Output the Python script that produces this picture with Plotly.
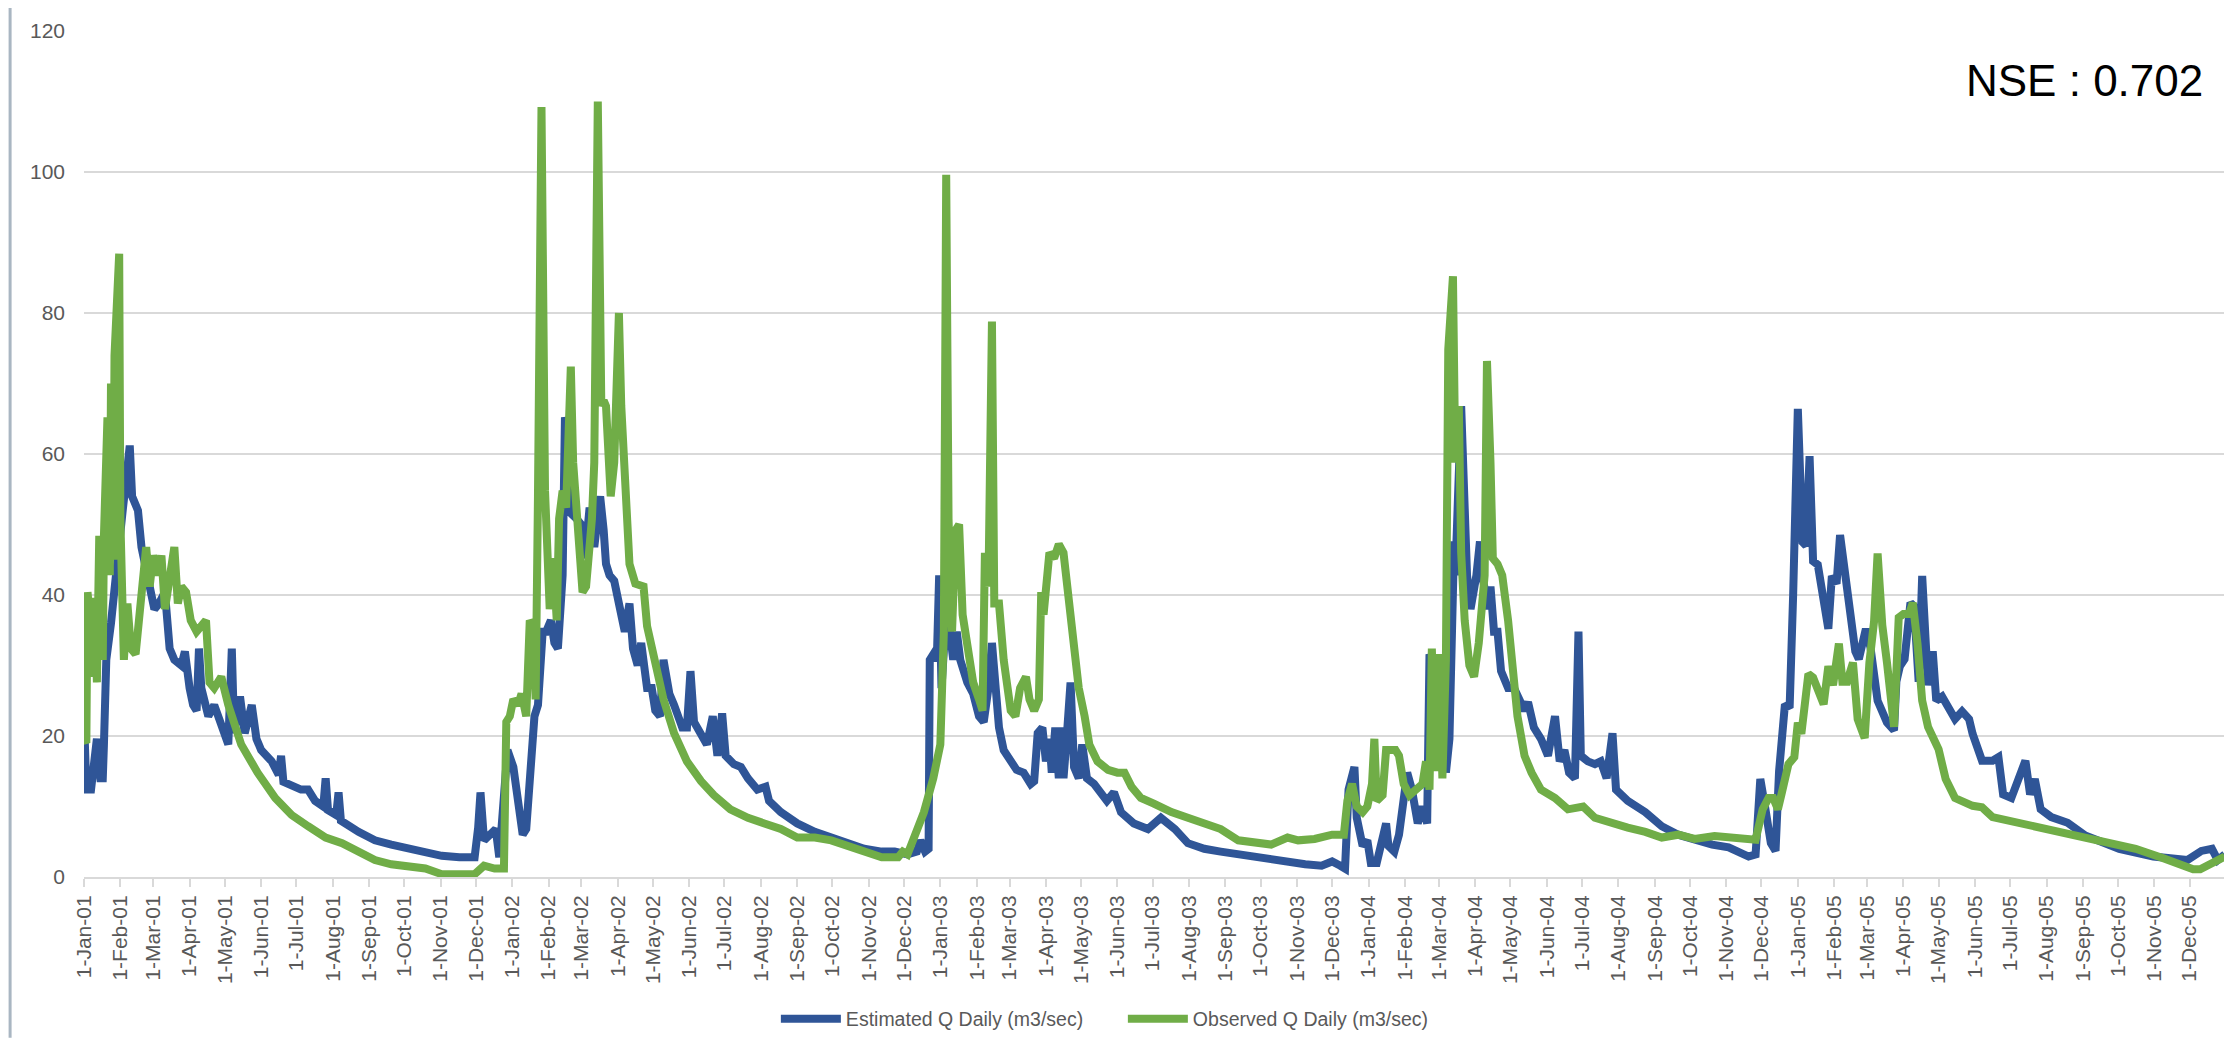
import pandas as pd
import plotly.graph_objects as go

START = pd.Timestamp("2001-01-01")  # day offsets below count from this date

# Estimated Q Daily (m3/sec): (day offset, value)
est_2001 = [(0, 22.8), (2, 12.4), (6, 12.4), (9, 16), (11, 19.6), (14, 14), (16, 14), (17, 18.8), (19, 30.8),
            (23, 36), (25, 38.8), (26, 40), (28, 45), (33, 52), (37, 58), (39, 61.2), (41, 54), (46, 52),
            (49, 46.8), (54, 42.8), (60, 38), (64, 38.8), (69, 40.4), (73, 32.4), (77, 30.8), (83, 30),
            (86, 32), (90, 26.8), (93, 24.4), (96, 23.6), (98, 32.4), (100, 26.8), (106, 22.8), (111, 24.4),
            (117, 21.2), (123, 18.8), (126, 32.4), (128, 20.4), (133, 25.6), (137, 20.4), (143, 24.4),
            (147, 19.6), (151, 18), (160, 16.4), (166, 14.5), (168, 17.2), (170, 13.5), (174, 13.2),
            (185, 12.4), (191, 12.4), (197, 10.8), (204, 10), (206, 14), (208, 9.5), (215, 8.8), (217, 12),
            (219, 8), (234, 6.4), (248, 5.2), (262, 4.6), (277, 4), (291, 3.4), (305, 3), (320, 2.8),
            (333, 2.8), (336, 7), (338, 12), (341, 5.2), (347, 6), (351, 6.8), (354, 2.8), (357, 9.2),
            (361, 18)]
est_2002 = [(366, 15.6), (370, 10.8), (374, 6), (377, 6.8), (380, 15.6), (384, 22.8), (387, 24.4),
            (391, 34.8), (394, 34.8), (398, 36.4), (401, 33.2), (404, 32.4), (408, 42.8), (410, 65.2),
            (413, 62.8), (415, 51.6), (420, 50.8), (424, 50), (427, 45.2), (431, 52.4), (435, 46.8),
            (440, 54), (443, 49.2), (445, 44.4), (448, 42.8), (452, 42), (457, 38), (461, 34.8),
            (465, 38.8), (468, 32.4), (472, 30), (475, 33.2), (480, 26.8), (484, 26.8), (487, 23.6),
            (491, 22.8), (494, 30.8), (499, 26), (503, 24.4), (507, 22), (510, 21.2), (514, 21.2),
            (517, 29.2), (520, 22), (526, 20.4), (531, 18.8), (536, 22.8), (540, 17.2), (544, 23.2),
            (547, 17.2), (554, 16), (560, 15.6), (566, 14), (574, 12.4), (581, 12.8), (584, 10.8),
            (594, 9.2), (608, 7.6), (623, 6.4), (637, 5.6), (651, 4.8), (665, 4), (680, 3.6), (691, 3.6),
            (702, 3.2), (710, 3.6), (713, 5.2), (717, 3.6), (720, 4), (721, 30.8), (724, 31.6),
            (727, 30.8), (729, 42.8)]
est_2003 = [(731, 26.8), (734, 34.8), (737, 36.4), (741, 30.8), (744, 34.8), (747, 30.8), (753, 27.6),
            (758, 26), (763, 22.8), (767, 22), (771, 26.8), (774, 33.2), (777, 28.4), (780, 21.2),
            (784, 18), (790, 16.4), (795, 15.2), (801, 14.8), (807, 13.2), (810, 13.6), (813, 20.4),
            (817, 21.2), (820, 16.4), (823, 19.6), (825, 14.8), (828, 21.2), (831, 14), (833, 21.2),
            (835, 14), (838, 20.4), (841, 27.6), (844, 15.6), (848, 14), (851, 18.8), (855, 14),
            (861, 13.2), (867, 11.6), (872, 10.8), (878, 12), (884, 9.2), (895, 7.6), (907, 6.8),
            (918, 8.4), (930, 6.8), (941, 4.8), (955, 4), (969, 3.6), (984, 3.2), (998, 2.8), (1012, 2.4),
            (1026, 2), (1041, 1.8), (1055, 1.6), (1064, 2.2), (1071, 1.6), (1075, 1.2), (1078, 12.4),
            (1083, 15.6), (1085, 8.4), (1090, 4.4)]
est_2004 = [(1094, 5.2), (1097, 2), (1102, 2), (1107, 5.2), (1110, 7.6), (1112, 4.4), (1117, 3.6),
            (1121, 6), (1125, 10.8), (1128, 14.8), (1132, 12.4), (1137, 7.6), (1141, 10), (1145, 7.6),
            (1147, 31.6), (1151, 30), (1157, 27.6), (1161, 14.8), (1164, 19.6), (1168, 47.6), (1169, 42.8),
            (1174, 66.8), (1177, 49.2), (1179, 42.8), (1182, 38), (1187, 42.8), (1190, 47.6), (1192, 42.8),
            (1197, 38), (1199, 41.2), (1202, 34.8), (1205, 34.8), (1208, 29.2), (1214, 26.8), (1219, 26.8),
            (1224, 25.2), (1228, 23.6), (1231, 24.8), (1236, 21.2), (1242, 19.6), (1248, 17.2),
            (1254, 22.8), (1258, 16.4), (1262, 18), (1266, 14.8), (1271, 14), (1274, 34.8), (1276, 17.2),
            (1282, 16.4), (1288, 16), (1293, 16.4), (1298, 14), (1303, 20.4), (1306, 12.4), (1316, 10.8),
            (1331, 9.2), (1345, 7.2), (1359, 6), (1373, 5.2), (1388, 4.6), (1402, 4.2), (1419, 2.9),
            (1425, 3.2), (1429, 13.9), (1433, 10), (1438, 4.8), (1442, 3.7), (1445, 15), (1450, 24.5),
            (1454, 24), (1457, 40)]
est_2005 = [(1461, 66.4), (1465, 47.5), (1468, 47), (1471, 59.7), (1474, 44.8), (1478, 44.3),
            (1483, 38.4), (1487, 35.2), (1490, 42.7), (1494, 41.6), (1497, 48.5), (1501, 43.7),
            (1506, 37.3), (1510, 32), (1513, 30.9), (1519, 35.2), (1523, 32.5), (1529, 25), (1537, 21.9),
            (1543, 20.8), (1545, 27.7), (1548, 29.9), (1552, 30.9), (1557, 38.9), (1560, 38.4),
            (1564, 27.7), (1567, 42.7), (1572, 27.2), (1576, 32), (1579, 25), (1584, 25.6), (1590, 23.5),
            (1595, 22.4), (1601, 23.5), (1607, 22.4), (1610, 20.3), (1618, 16.5), (1627, 16.5), (1632, 17),
            (1636, 11.7), (1643, 11.2), (1655, 16.5), (1659, 11.7), (1663, 13.9), (1668, 9.6), (1677, 8.5),
            (1691, 7.7), (1706, 5.9), (1735, 4), (1764, 2.9), (1793, 2.4), (1805, 3.7), (1814, 4),
            (1819, 2.4), (1825, 3.2)]

# Observed Q Daily (m3/sec)
obs_2001 = [(0, 19.6), (2, 19), (3, 40.4), (6, 34.8), (7, 28.4), (9, 39.6), (11, 27.6), (13, 48.4), (16, 30.8),
            (17, 48.4), (20, 65.2), (22, 42.8), (23, 70), (25, 45), (26, 74), (30, 88.4), (31, 50.8),
            (34, 30.8), (37, 38.8), (40, 32.4), (44, 31.6), (49, 39.6), (53, 46.8), (56, 41.2), (59, 45.6),
            (63, 42.8), (66, 45.6), (69, 38), (74, 42.8), (77, 46.8), (80, 38.8), (83, 41.2), (87, 40.4),
            (91, 36.4), (96, 34.8), (100, 35.6), (104, 36.4), (107, 27.6), (111, 26.8), (117, 28.4),
            (123, 24.4), (134, 18.8), (148, 14.8), (163, 11.2), (177, 8.8), (191, 7.2), (206, 5.6),
            (220, 4.8), (234, 3.6), (248, 2.4), (262, 1.8), (277, 1.6), (291, 1.2), (305, 0.4), (320, 0.4),
            (333, 0.4), (341, 1.6), (350, 1.2), (358, 1.2), (360, 22), (363, 22.8)]
obs_2002 = [(366, 25.2), (370, 24.4), (373, 26), (377, 22.8), (380, 36.4), (383, 35.6), (385, 25.2),
            (387, 54), (390, 109.2), (393, 54.8), (395, 42.8), (397, 38), (400, 45.2), (403, 36.4),
            (405, 50.8), (408, 54.8), (411, 52.4), (415, 72.4), (417, 58.8), (420, 51.6), (423, 47.6),
            (425, 40.4), (428, 41.2), (433, 50.8), (435, 58.8), (438, 110), (441, 66.8), (443, 67.6),
            (445, 66.8), (449, 54), (452, 58.8), (456, 80), (458, 66.8), (462, 50.8), (465, 44.4),
            (470, 41.6), (477, 41.2), (480, 35.6), (486, 30.8), (494, 25.2), (503, 20.4), (514, 16.4),
            (526, 13.6), (537, 11.6), (551, 9.6), (566, 8.4), (580, 7.6), (594, 6.8), (608, 5.6),
            (623, 5.6), (637, 5.2), (651, 4.4), (665, 3.6), (680, 2.8), (694, 2.8), (698, 3.6), (702, 3.2),
            (707, 5.2), (716, 9.2), (724, 14), (730, 18.8)]
obs_2003 = [(733, 34.8), (735, 99.6), (737, 50.8), (740, 34.8), (743, 49.2), (746, 50), (749, 37.2),
            (753, 32.4), (758, 27.6), (763, 25.2), (766, 23.6), (768, 46), (771, 41.2), (774, 78.8),
            (776, 38.8), (780, 38.8), (784, 30.8), (790, 23.6), (794, 22.8), (798, 26.8), (803, 28.4),
            (806, 25.2), (810, 23.6), (814, 25.2), (816, 40.4), (818, 37.2), (823, 46), (827, 45.2),
            (831, 47.2), (835, 46), (840, 38), (844, 30.8), (848, 26.8), (853, 22.8), (857, 18.8),
            (864, 16.4), (873, 15.2), (881, 14.8), (887, 14.8), (893, 12.8), (901, 11.2), (912, 10.4),
            (927, 9.2), (941, 8.4), (955, 7.6), (969, 6.8), (984, 5.2), (998, 4.8), (1012, 4.6),
            (1026, 5.6), (1035, 5.2), (1049, 5.4), (1064, 6), (1074, 6), (1077, 10.8), (1081, 13.2),
            (1085, 10), (1090, 9.2)]
obs_2004 = [(1094, 10), (1098, 13.2), (1100, 19.6), (1102, 10.8), (1107, 11.6), (1110, 18), (1114, 18),
            (1118, 18), (1121, 17.2), (1125, 13.2), (1130, 11.6), (1135, 12.4), (1141, 13.2), (1144, 16.4),
            (1147, 12.4), (1149, 32.4), (1152, 15), (1155, 31.6), (1158, 14), (1161, 30.8), (1163, 74.8),
            (1167, 85.2), (1169, 58.8), (1172, 66.8), (1174, 46), (1177, 36.4), (1181, 30), (1185, 28.4),
            (1189, 33.2), (1194, 42.8), (1196, 73.2), (1199, 58.8), (1201, 45.2), (1205, 44.4),
            (1209, 42.8), (1214, 36.4), (1218, 29.2), (1222, 22.8), (1228, 17.2), (1234, 14.8),
            (1242, 12.4), (1254, 11.2), (1265, 9.6), (1278, 10), (1288, 8.4), (1302, 7.6), (1316, 7),
            (1331, 6.4), (1345, 5.6), (1359, 6), (1373, 5.4), (1390, 5.8), (1402, 5.6), (1414, 5.6),
            (1425, 5.3), (1431, 9.6), (1436, 11.2), (1440, 11.2), (1444, 9.6), (1447, 11.7), (1453, 16),
            (1458, 17)]
obs_2005 = [(1461, 21.9), (1464, 20.3), (1470, 28.8), (1474, 28.3), (1478, 26.7), (1483, 24.5),
            (1487, 29.9), (1491, 27.2), (1496, 33.1), (1499, 27.7), (1503, 27.7), (1508, 30.4),
            (1512, 22.4), (1518, 19.7), (1522, 30.4), (1526, 36.3), (1529, 45.9), (1533, 35.7),
            (1537, 30.4), (1543, 21.3), (1547, 36.8), (1551, 37.3), (1556, 37.3), (1559, 38.9),
            (1563, 33.1), (1567, 25), (1572, 21.3), (1576, 19.7), (1581, 18.1), (1587, 13.9), (1595, 11.2),
            (1610, 10.1), (1618, 9.9), (1627, 8.5), (1641, 8), (1662, 7.2), (1691, 6.1), (1720, 5.3),
            (1749, 4), (1772, 2.7), (1798, 1.1), (1804, 1.1), (1815, 2.1), (1825, 2.9)]

series_names = ["Estimated Q Daily (m3/sec)", "Observed Q Daily (m3/sec)"]
series_colors = ["#2F5597", "#70AD47"]

tick_dates = pd.date_range("2001-01-01", "2005-12-01", freq="MS")
tick_labels = [f"{d.day}-{d.strftime('%b-%y')}" for d in tick_dates]


def to_xy(*parts):
    pts = [p for part in parts for p in part]
    x = START + pd.to_timedelta([p[0] for p in pts], unit="D")
    return x, [p[1] for p in pts]


est_x, est_y = to_xy(est_2001, est_2002, est_2003, est_2004, est_2005)
obs_x, obs_y = to_xy(obs_2001, obs_2002, obs_2003, obs_2004, obs_2005)

fig = go.Figure()
fig.add_trace(go.Scatter(x=est_x, y=est_y, mode="lines", name=series_names[0],
                         line=dict(color=series_colors[0], width=8)))
fig.add_trace(go.Scatter(x=obs_x, y=obs_y, mode="lines", name=series_names[1],
                         line=dict(color=series_colors[1], width=8)))

fig.update_layout(
    width=2232, height=1043,
    margin=dict(l=76, r=14, t=23, b=162),
    paper_bgcolor="white", plot_bgcolor="white",
    font=dict(family="Liberation Sans, Arial, sans-serif", color="#595959"),
    showlegend=True,
    legend=dict(orientation="h", x=0.485, xanchor="center", y=-0.168, yanchor="middle",
                font=dict(size=19.5, color="#595959"), itemwidth=60, entrywidth=272,
                traceorder="normal"),
    annotations=[dict(text="NSE : 0.702", xref="paper", yref="paper", x=0.990, y=0.942,
                      xanchor="right", yanchor="middle", showarrow=False,
                      font=dict(size=44, color="black", family="Liberation Sans, Arial, sans-serif"))],
    shapes=[dict(type="line", xref="paper", yref="paper", x0=-0.0345, x1=-0.0345, y0=-0.19, y1=1.03,
                 line=dict(color="#A9B6C2", width=3))],
)
fig.update_xaxes(
    type="date", range=["2001-01-01", "2006-01-01"],
    tickmode="array", tickvals=list(tick_dates) + [pd.Timestamp("2006-01-01")],
    ticktext=tick_labels + [""], tickangle=-90,
    tickfont=dict(size=21, color="#595959"),
    ticks="outside", ticklen=8, tickwidth=2, tickcolor="#D9D9D9",
    showline=True, linecolor="#D9D9D9", linewidth=2,
    showgrid=False, zeroline=False,
)
fig.update_yaxes(
    range=[0, 120], tickmode="linear", tick0=0, dtick=20,
    tickfont=dict(size=21, color="#595959"),
    showgrid=True, gridcolor="#D9D9D9", gridwidth=2,
    zeroline=False, showline=False, ticks="", ticklabelstandoff=18,
)

fig.write_html("out.html")
